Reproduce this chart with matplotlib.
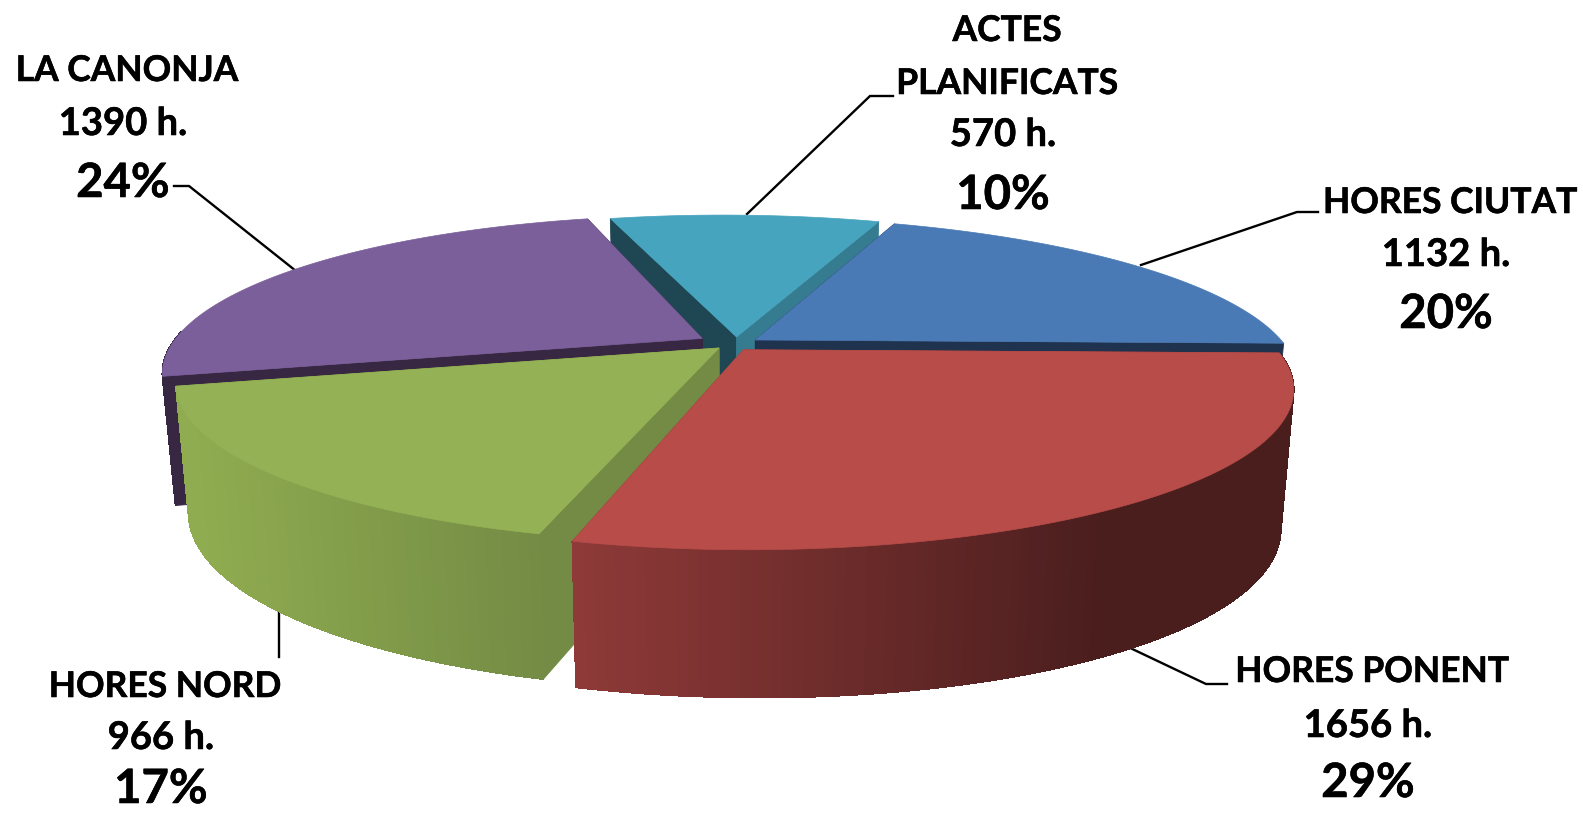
import numpy as np
import matplotlib
matplotlib.use("Agg")
import matplotlib.pyplot as plt
import matplotlib.patheffects as pe

names = ["HORES CIUTAT", "HORES PONENT", "HORES NORD", "LA CANONJA", "ACTES\nPLANIFICATS"]
values = [1132, 1656, 966, 1390, 570]
unit = "h."
top_colors = ["#4A7AB5", "#B74C49", "#95B155", "#7B5F9A", "#46A4BE"]
# outer wall colours: left end, right end, x range of the gradient
wall_left = ["#1F324E", "#8F3A38", "#90AC50", "#372743", "#367C90"]
wall_right = ["#1F324E", "#4B1E1E", "#738B44", "#372743", "#367C90"]
wall_range = [(0, 1), (570, 1100), (190, 545), (0, 1), (0, 1)]
# radial wall colours: wall at the start angle, wall at the end angle
radial_start = ["#1F324E", "#8F3A38", "#738B44", "#372743", "#1E4653"]
radial_end = ["#1F324E", "#8F3A38", "#738B44", "#372743", "#367C90"]
draw_order = [4, 3, 0, 2, 1]
nudges = [(3, 0), (-4, 0), (5, -1), (0, -2), (4, 0)]
apex_nudges = [(0, 0), (0, 0), (0, 0), (-8, 0), (0, 0)]
radius_scale = [1.0, 1.0, 0.98, 1.0, 1.0]
start_adjust = [0.0, 0.0, -0.4, 0.0, 0.0]

label_x = [1450, 1372, 165, 127, 1007]
label_y = [(203, 255, 314), (672, 726, 783), (687, 738, 789), (71, 124, 183), (31, 84, 135, 195)]
leaders = [
    [(1141, 265), (1297, 212), (1318, 212)],
    [(1126, 646), (1206, 684), (1227, 684)],
    [(279, 613), (279, 657)],
    [(296, 271), (189, 186), (174, 186)],
    [(747, 214), (870, 96), (893, 96)],
]

W, H_PX = 1583, 813
cx, cy, rx, ry = 732.0, 344.0, 533.0, 152.0
k, shear, explode, roll = 0.225, 10.0, 0.047, 5.0
wall_h, wall_c, wall_roll, bottom_f = 130.0, 0.13, 5.0, 0.977
start_deg = 72.0


def project(X, Y):
    s = 1.0 / (1.0 + k * Y)
    return cx + (rx * X + shear * Y) * s, cy - ry * Y * s + roll * X


def lower(x, y, X, Y):
    return cx + (x - cx) * bottom_f, y + wall_h * (1 - wall_c * Y) + wall_roll * X


def hex_rgb(c):
    return np.array(matplotlib.colors.to_rgb(c))


plt.rcParams["font.family"] = ["Lato", "DejaVu Sans"]
fig = plt.figure(figsize=(W / 100, H_PX / 100), dpi=100, facecolor="white")
ax = fig.add_axes([0, 0, 1, 1])
ax.set_xlim(0, W)
ax.set_ylim(H_PX, 0)
ax.axis("off")

total = sum(values)
ends = start_deg - np.cumsum(values) / total * 360.0
starts = np.concatenate([[start_deg], ends[:-1]])


def quad(xs, ys, color, z, aa=True):
    ax.fill(xs, ys, facecolor=color, edgecolor=color, linewidth=0.6, zorder=z, antialiased=aa)


z = 2.0
for i in draw_order:
    a0, a1 = np.radians(starts[i] + start_adjust[i]), np.radians(ends[i])
    mid = (a0 + a1) / 2
    ox, oy = explode * np.cos(mid), explode * np.sin(mid)
    t = np.linspace(a0, a1, 120)
    r = radius_scale[i]
    X, Y = ox + r * np.cos(t), oy + r * np.sin(t)
    x, y = project(X, Y)
    x, y = x + nudges[i][0], y + nudges[i][1]
    ax_, ay_ = project(np.array([ox]), np.array([oy]))
    ax_, ay_ = ax_[0] + nudges[i][0] + apex_nudges[i][0], ay_[0] + nudges[i][1] + apex_nudges[i][1]
    xb, yb = lower(x, y, X, Y)
    axb, ayb = lower(ax_, ay_, ox, oy)

    # radial walls
    quad([ax_, x[0], xb[0], axb], [ay_, y[0], yb[0], ayb], radial_start[i], z)
    z += 0.01
    quad([ax_, x[-1], xb[-1], axb], [ay_, y[-1], yb[-1], ayb], radial_end[i], z)
    z += 0.01

    # outer wall, one strip per step, only where it faces the viewer
    cl, cr = hex_rgb(wall_left[i]), hex_rgb(wall_right[i])
    lo, hi = wall_range[i]
    for j in range(len(t) - 1):
        if np.sin(t[j]) > 0:
            continue
        u = np.clip(((x[j] + x[j + 1]) / 2 - lo) / (hi - lo), 0, 1)
        col = cl + (cr - cl) * u
        quad([x[j], x[j + 1], xb[j + 1], xb[j]], [y[j], y[j + 1], yb[j + 1], yb[j]], col, z, aa=False)
    z += 0.01

    # top face
    ax.fill(np.r_[ax_, x], np.r_[ay_, y], facecolor=top_colors[i], edgecolor=top_colors[i],
            linewidth=0.5, zorder=z)
    z += 0.01

for pts in leaders:
    xs, ys = zip(*pts)
    ax.plot(xs, ys, color="black", lw=1.7, solid_joinstyle="miter", zorder=1)

stroke = [pe.withStroke(linewidth=0.4, foreground="black")]
for i, name in enumerate(names):
    name_lines = name.split("\n")
    pct = f"{round(100 * values[i] / total)}%"
    ys = label_y[i]
    for line, yy in zip(name_lines, ys):
        ax.text(label_x[i], yy, line, ha="center", va="center", fontsize=25.5, fontweight="bold",
                color="black", zorder=10, path_effects=stroke)
    ax.text(label_x[i] - 4, ys[-2], f"{values[i]} {unit}", ha="center", va="center", fontsize=27.5,
            fontweight="bold", color="black", zorder=10, path_effects=stroke)
    ax.text(label_x[i] - 4, ys[-1], pct, ha="center", va="center", fontsize=34, fontweight="bold",
            color="black", zorder=10, path_effects=stroke)

fig.savefig("out.png", dpi=100, facecolor="white")
